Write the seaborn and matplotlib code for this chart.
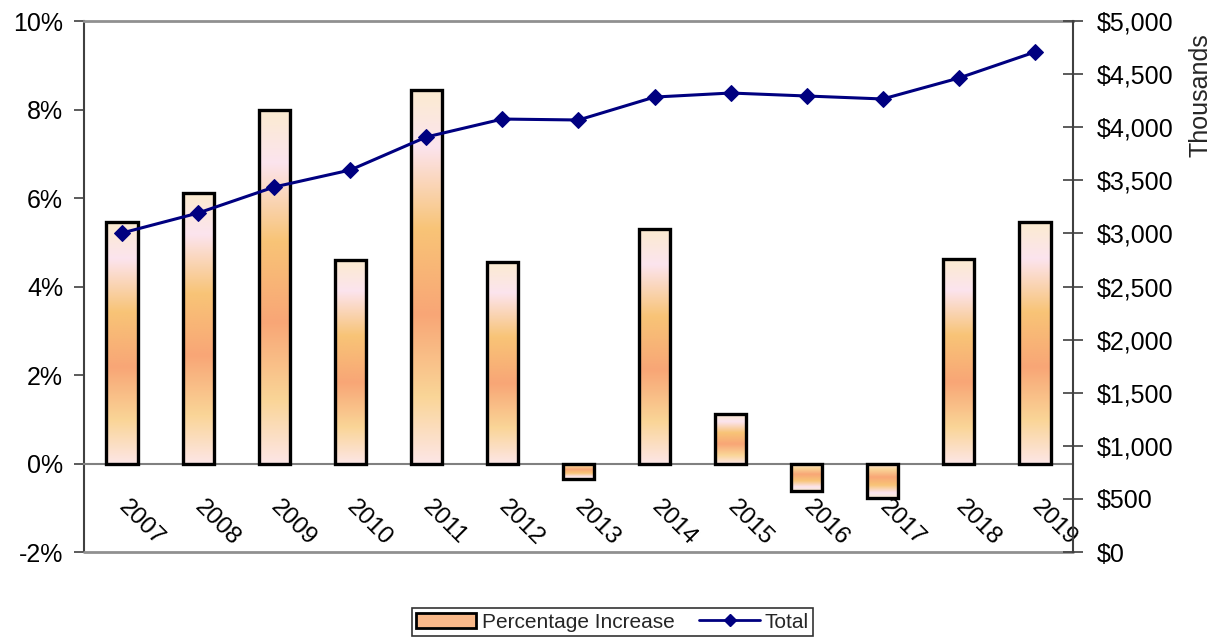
import numpy as np
import pandas as pd
import matplotlib
matplotlib.use("Agg")
import matplotlib.pyplot as plt
from matplotlib.colors import LinearSegmentedColormap
from matplotlib.patches import Patch
from matplotlib.lines import Line2D
from matplotlib.ticker import FuncFormatter, MultipleLocator, FixedLocator
import seaborn as sns

# Data
years = ["2007", "2008", "2009", "2010", "2011", "2012", "2013",
         "2014", "2015", "2016", "2017", "2018", "2019"]
pct_increase = [5.45, 6.12, 8.00, 4.59, 8.43, 4.56, -0.36,
                5.29, 1.11, -0.63, -0.79, 4.63, 5.45]        # percent
totals = [3004, 3192, 3437, 3597, 3908, 4077, 4068,
          4284, 4322, 4294, 4266, 4463, 4708]                 # thousands of dollars

sns.set_style("white")
plt.rcParams["font.family"] = ["Liberation Sans", "DejaVu Sans"]

navy = "#000080"
df = pd.DataFrame({"year": years, "pct": pct_increase, "total": totals})

fig = plt.figure(figsize=(12.19, 6.37), dpi=100)
ax = fig.add_axes([0.0689, 0.1334, 0.8113, 0.8336])

sns.barplot(data=df, x="year", y="pct", order=years, ax=ax, width=0.41,
            color="#F9B98A", edgecolor="black", linewidth=2.4, zorder=3)

# Vertical gradient inside each bar, running from its base to its tip
grad = LinearSegmentedColormap.from_list("bar_grad", [
    (0.00, "#FDE6E6"),
    (0.18, "#FAD597"),
    (0.40, "#F8A676"),
    (0.63, "#F8C477"),
    (0.85, "#FCE4EE"),
    (1.00, "#FBEBD0"),
])
ramp = np.linspace(0, 1, 256).reshape(-1, 1)
for bar in ax.patches:
    x0, w = bar.get_x(), bar.get_width()
    y0, h = bar.get_y(), bar.get_height()
    lo, hi = min(y0, y0 + h), max(y0, y0 + h)
    arr = ramp if h >= 0 else ramp[::-1]
    im = ax.imshow(arr, cmap=grad, aspect="auto", origin="lower",
                   extent=[x0, x0 + w, lo, hi], zorder=2, interpolation="bilinear")
    im.set_clip_path(bar)
    bar.set_facecolor("none")

ax.set_xlim(-0.5, len(years) - 0.5)
ax.set_ylim(-2, 10)
ax.yaxis.set_major_locator(MultipleLocator(2))
ax.yaxis.set_major_formatter(FuncFormatter(lambda v, p: f"{v:.0f}%"))
ax.tick_params(axis="y", which="major", direction="out", length=7, width=1.2,
               color="#404040", labelsize=18, pad=8, labelcolor="black")

# Category axis sits on the zero line; tick marks between categories
ax.spines["bottom"].set_position(("data", 0))
ax.spines["bottom"].set_color("#808080")
ax.spines["bottom"].set_linewidth(1.5)
ax.xaxis.set_major_locator(FixedLocator(np.arange(0.5, len(years) - 1, 1.0)))
ax.set_xticklabels([], minor=False)
ax.set_xticks(np.arange(len(years)), labels=years, minor=True)
ax.tick_params(axis="x", which="major", direction="inout", length=12, width=1.2,
               color="#606060")
ax.tick_params(axis="x", which="minor", length=0, pad=29, labelsize=17.5,
               labelcolor="black")
for lbl in ax.get_xticklabels(minor=True):
    lbl.set_rotation(-45)
    lbl.set_rotation_mode("anchor")
    lbl.set_ha("left")
    lbl.set_va("center")
ax.set_xlabel("")
ax.set_ylabel("")

ax.spines["left"].set_color("#404040")
ax.spines["left"].set_linewidth(1.5)
ax.spines["top"].set_color("#909090")
ax.spines["top"].set_linewidth(2)
ax.spines["right"].set_visible(False)
ax.axhline(-2, color="#909090", linewidth=2, clip_on=False, zorder=5)

# Totals on the secondary axis
ax2 = ax.twinx()
sns.lineplot(x=np.arange(len(years)), y=totals, ax=ax2, color=navy,
             linewidth=2.2, marker="D", markersize=8.5, markeredgecolor=navy,
             markerfacecolor=navy, zorder=4)
ax2.set_ylim(0, 5000)
ax2.set_xlim(-0.5, len(years) - 0.5)
ax2.yaxis.set_major_locator(MultipleLocator(500))
ax2.yaxis.set_major_formatter(FuncFormatter(lambda v, p: f"${v:,.0f}"))
ax2.tick_params(axis="y", direction="inout", length=14, width=1.2,
                color="#404040", labelsize=18, pad=10, labelcolor="black")
for side in ("top", "bottom", "left"):
    ax2.spines[side].set_visible(False)
ax2.spines["right"].set_color("#404040")
ax2.spines["right"].set_linewidth(1.5)
ax2.set_ylabel("")
fig.text(0.9845, 0.851, "Thousands", rotation=90, ha="center", va="center",
         fontsize=18)

handles = [
    Patch(facecolor="#F9B98A", edgecolor="black", linewidth=2),
    Line2D([0], [0], color=navy, linewidth=2, marker="D", markersize=6.5,
           markerfacecolor=navy, markeredgecolor=navy),
]
leg = fig.legend(handles, ["Percentage Increase", "Total"], loc="center",
                 bbox_to_anchor=(0.5025, 0.0235), ncol=2, fontsize=15,
                 frameon=True, fancybox=False, handlelength=2.9,
                 handletextpad=0.25, columnspacing=1.2, borderpad=0.2)
leg.get_frame().set_edgecolor("black")
leg.get_frame().set_linewidth(1.2)

fig.savefig("out.png", dpi=100)
